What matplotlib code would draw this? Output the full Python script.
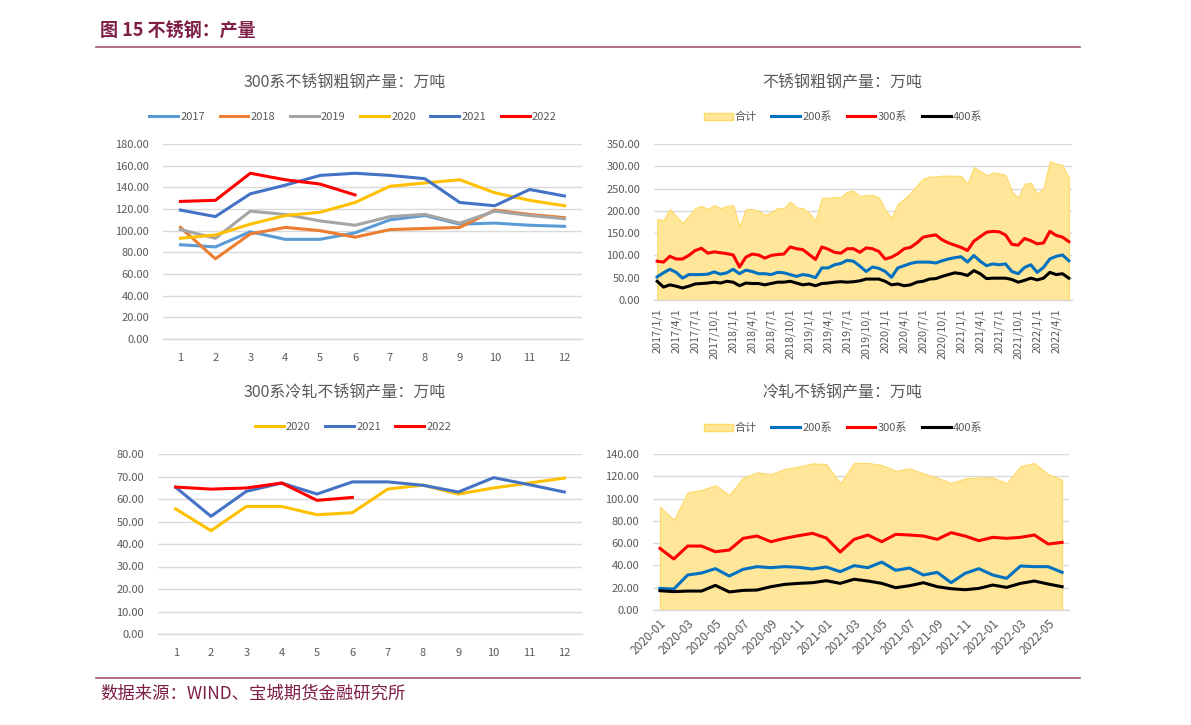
import numpy as np
import pandas as pd
import matplotlib
matplotlib.use('Agg')
import matplotlib.pyplot as plt
from matplotlib.patches import Patch
from matplotlib.lines import Line2D

plt.rcParams['font.family'] = ['Noto Sans CJK SC', 'DejaVu Sans']

# -------------------------------------------------------------------
# Dados
# -------------------------------------------------------------------
months_12 = list(range(1, 13))

# 300系不锈钢粗钢产量（按月，各年）
crude300_2017 = [87, 85, 99, 92, 92, 98, 110, 114, 106, 107, 105, 104]
crude300_2018 = [103, 74, 97, 103, 100, 94, 101, 102, 103, 119, 115, 112]
crude300_2019 = [101, 93, 118, 115, 109, 105, 113, 115, 107, 118, 114, 111]
crude300_2020 = [93, 96, 106, 114, 117, 126, 141, 144, 147, 135, 128, 123]
crude300_2021 = [119, 113, 134, 142, 151, 153, 151, 148, 126, 123, 138, 132]
crude300_2022 = [127, 128, 153, 147, 143, 133]

# 300系冷轧不锈钢产量
cold300_2020 = [55.6, 45.9, 56.7, 56.7, 53.0, 53.9, 64.4, 66.2, 62.2, 64.9, 67.1, 69.3]
cold300_2021 = [65.2, 52.3, 63.4, 67.1, 62.2, 67.6, 67.6, 66.1, 63.1, 69.5, 66.4, 63.1]
cold300_2022 = [65.3, 64.4, 64.9, 67.1, 59.4, 60.7]

# 不锈钢粗钢产量 2017/1 - 2022/6
crude_total = [182, 179, 204, 188, 173, 189, 206, 211, 204, 213, 206, 211,
               213, 165, 204, 204, 200, 191, 197, 206, 206, 221, 208, 206,
               195, 179, 229, 229, 231, 231, 243, 245, 233, 235, 236, 230,
               203, 184, 216, 227, 240, 257, 272, 277, 277, 279, 279, 279,
               278, 261, 298, 289, 280, 286, 284, 281, 244, 229, 261, 263,
               238, 251, 311, 306, 303, 274]
crude_200 = [52, 61, 69, 62, 49, 57, 57, 57, 58, 63, 58, 61,
             69, 59, 67, 64, 59, 59, 57, 62, 61, 57, 53, 57,
             55, 50, 72, 72, 79, 82, 89, 87, 76, 64, 74, 71,
             64, 51, 72, 77, 82, 85, 85, 85, 83, 88, 92, 95,
             97, 85, 100, 87, 77, 81, 79, 81, 64, 59, 73, 79,
             62, 73, 92, 98, 101, 88]
crude_300 = [87, 85, 98, 92, 92, 100, 111, 116, 105, 108, 106, 104,
             101, 74, 96, 103, 101, 94, 100, 102, 103, 119, 115, 113,
             102, 91, 119, 114, 107, 105, 115, 115, 107, 117, 115, 109,
             92, 96, 104, 115, 118, 128, 141, 144, 146, 135, 128, 123,
             118, 111, 132, 142, 152, 154, 153, 146, 125, 123, 138, 133,
             126, 128, 154, 145, 141, 131]
crude_400 = [42, 29, 34, 31, 27, 31, 36, 37, 38, 40, 38, 42,
             40, 32, 38, 37, 37, 34, 37, 40, 40, 42, 38, 34,
             36, 32, 37, 38, 40, 41, 40, 41, 43, 47, 47, 47,
             42, 34, 36, 32, 34, 40, 42, 47, 48, 53, 57, 61,
             59, 55, 66, 59, 48, 49, 49, 49, 46, 40, 44, 49,
             45, 49, 62, 57, 59, 49]

# 冷轧不锈钢产量 2020-01 - 2022-06
cold_total = [92.7, 80.8, 105.6, 107.7, 111.9, 103.2, 118.7, 123.5, 122.0, 126.5,
              128.6, 131.6, 131.0, 113.7, 132.0, 132.0, 130.0, 125.0, 127.0, 122.6,
              118.7, 114.0, 118.0, 119.0, 119.0, 113.7, 129.0, 132.0, 121.7, 117.0]
cold_200 = [19.4, 18.8, 31.4, 33.2, 37.1, 30.5, 36.5, 38.9, 38.0, 38.9,
            38.3, 36.8, 38.6, 34.4, 39.8, 38.0, 43.0, 35.6, 37.7, 31.4,
            33.8, 24.5, 32.9, 37.1, 31.4, 28.4, 39.5, 38.9, 38.9, 33.8]
cold_300 = [55.3, 45.8, 57.4, 57.4, 52.3, 53.8, 64.3, 66.4, 61.3, 64.3,
            66.7, 68.8, 64.6, 52.0, 63.4, 67.3, 61.3, 67.9, 67.3, 66.4,
            63.4, 69.4, 66.4, 62.2, 65.2, 64.3, 65.2, 67.3, 59.2, 60.7]
cold_400 = [17.3, 16.5, 17.0, 17.0, 22.1, 16.2, 17.6, 17.9, 20.9, 23.0,
            23.9, 24.5, 26.3, 23.9, 27.6, 26.0, 23.9, 20.0, 21.8, 24.5,
            20.9, 19.1, 18.2, 19.4, 22.4, 20.3, 23.9, 26.0, 23.3, 20.9]

crude_months = pd.date_range('2017-01-01', periods=len(crude_total), freq='MS')
cold_months = pd.date_range('2020-01-01', periods=len(cold_total), freq='MS')

# -------------------------------------------------------------------
# Estilo
# -------------------------------------------------------------------
W, H = 1191, 725
MAROON = '#7E1F48'
TXT = '#595959'
GRID = '#D9D9D9'
AREA = '#FFE699'
C200, C300, C400 = '#0070C0', '#FF0000', '#000000'
YEAR_COLORS = {'2017': '#5B9BD5', '2018': '#ED7D31', '2019': '#A5A5A5',
               '2020': '#FFC000', '2021': '#4472C4', '2022': '#FF0000'}
LW = 2.2

fig = plt.figure(figsize=(W / 100, H / 100), dpi=100)


def rect(x0, x1, ytop, ybot):
    return [x0 / W, 1 - ybot / H, (x1 - x0) / W, (ybot - ytop) / H]


def estilo(ax, ymax, ystep):
    for s in ['top', 'right', 'left']:
        ax.spines[s].set_visible(False)
    ax.spines['bottom'].set_color(GRID)
    ax.spines['bottom'].set_linewidth(1)
    ax.set_ylim(0, ymax)
    ax.set_yticks(np.arange(0, ymax + 0.1, ystep))
    ax.yaxis.set_major_formatter(matplotlib.ticker.FormatStrFormatter('%.2f'))
    ax.grid(axis='y', color=GRID, linewidth=1)
    ax.set_axisbelow(True)
    ax.tick_params(axis='both', length=0, labelsize=8, labelcolor=TXT)
    ax.tick_params(axis='y', pad=10)


def titulo(x, y, s):
    fig.text(x / W, 1 - y / H, s, ha='center', va='center', fontsize=11.5, color=TXT)


def legenda(handles, labels, x, y):
    fig.legend(handles, labels, loc='center', bbox_to_anchor=(x / W, 1 - y / H),
               ncol=len(handles), frameon=False, fontsize=8, labelcolor=TXT,
               handlelength=2.6, handletextpad=0.2, columnspacing=1.3)


# Cabeçalho e rodapé
fig.text(100 / W, 1 - 31 / H, '图 15 不锈钢：产量', ha='left', va='center',
         fontsize=13, fontweight='bold', color=MAROON)
fig.add_artist(Line2D([96 / W, 1080 / W], [1 - 47 / H] * 2, color='#A3567A', lw=1.2))
fig.add_artist(Line2D([96 / W, 1080 / W], [1 - 678 / H] * 2, color='#A3567A', lw=1.2))
fig.text(100 / W, 1 - 694 / H, '数据来源：WIND、宝城期货金融研究所', ha='left', va='center',
         fontsize=12.5, color=MAROON)

# -------------------------------------------------------------------
# 1) 300系不锈钢粗钢产量
# -------------------------------------------------------------------
ax1 = fig.add_axes(rect(163, 582, 144, 339))
series1 = [crude300_2017, crude300_2018, crude300_2019, crude300_2020, crude300_2021, crude300_2022]
h1 = []
for year, vals in zip(YEAR_COLORS, series1):
    ln, = ax1.plot(months_12[:len(vals)], vals, color=YEAR_COLORS[year], lw=LW)
    h1.append(ln)
ax1.set_xlim(0.5, 12.5)
ax1.set_xticks(months_12)
estilo(ax1, 180, 20)
ax1.tick_params(axis='x', pad=10)
titulo(345, 83, '300系不锈钢粗钢产量：万吨')
legenda(h1, list(YEAR_COLORS), 353, 117)

# -------------------------------------------------------------------
# 2) 不锈钢粗钢产量
# -------------------------------------------------------------------
ax2 = fig.add_axes(rect(654, 1072, 144, 300))
x2 = np.arange(len(crude_total))
ax2.fill_between(x2, crude_total, color=AREA, edgecolor='#FFD966', lw=0.8)
l200, = ax2.plot(x2, crude_200, color=C200, lw=LW)
l300, = ax2.plot(x2, crude_300, color=C300, lw=LW)
l400, = ax2.plot(x2, crude_400, color=C400, lw=LW)
ax2.set_xlim(-0.5, len(x2) - 0.5)
ax2.set_xticks(x2[::3])
ax2.set_xticklabels([f'{d.year}/{d.month}/1' for d in crude_months[::3]], rotation=90)
estilo(ax2, 350, 50)
ax2.tick_params(axis='x', pad=6, labelsize=7.8)
titulo(842, 83, '不锈钢粗钢产量：万吨')
legenda([Patch(facecolor=AREA, edgecolor='#FFD966'), l200, l300, l400],
        ['合计', '200系', '300系', '400系'], 843, 117)

# -------------------------------------------------------------------
# 3) 300系冷轧不锈钢产量
# -------------------------------------------------------------------
ax3 = fig.add_axes(rect(158, 582, 454, 634))
h3 = []
for year, vals in zip(['2020', '2021', '2022'], [cold300_2020, cold300_2021, cold300_2022]):
    ln, = ax3.plot(months_12[:len(vals)], vals, color=YEAR_COLORS[year], lw=LW)
    h3.append(ln)
ax3.set_xlim(0.5, 12.5)
ax3.set_xticks(months_12)
estilo(ax3, 80, 10)
ax3.tick_params(axis='x', pad=10)
titulo(345, 393, '300系冷轧不锈钢产量：万吨')
legenda(h3, ['2020', '2021', '2022'], 353, 427)

# -------------------------------------------------------------------
# 4) 冷轧不锈钢产量
# -------------------------------------------------------------------
ax4 = fig.add_axes(rect(653, 1069, 454, 610))
x4 = np.arange(len(cold_total))
ax4.fill_between(x4, cold_total, color=AREA, edgecolor='#FFD966', lw=0.8)
m200, = ax4.plot(x4, cold_200, color=C200, lw=LW)
m300, = ax4.plot(x4, cold_300, color=C300, lw=LW)
m400, = ax4.plot(x4, cold_400, color=C400, lw=LW)
ax4.set_xlim(-0.5, len(x4) - 0.5)
ax4.set_xticks(x4[::2])
ax4.set_xticklabels([d.strftime('%Y-%m') for d in cold_months[::2]],
                    rotation=45, ha='right', rotation_mode='anchor')
estilo(ax4, 140, 20)
ax4.tick_params(axis='x', pad=5, labelsize=8.5)
titulo(842, 393, '冷轧不锈钢产量：万吨')
legenda([Patch(facecolor=AREA, edgecolor='#FFD966'), m200, m300, m400],
        ['合计', '200系', '300系', '400系'], 843, 428)

fig.savefig('out.png', dpi=100)
